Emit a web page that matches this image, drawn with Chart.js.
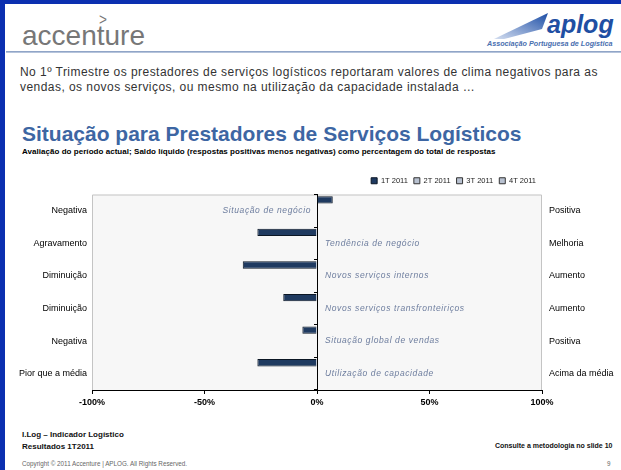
<!DOCTYPE html>
<html>
<head>
<meta charset="utf-8">
<script src="https://cdn.jsdelivr.net/npm/chart.js@4/dist/chart.umd.min.js"></script>
<style>
  html, body { margin:0; padding:0; }
  body { width:621px; height:470px; position:relative; overflow:hidden; background:#fff; font-family:"Liberation Sans", Arial, sans-serif; }
  .abs { position:absolute; white-space:nowrap; }
  #topbar { left:0; top:0; width:621px; height:4px; background:#0b2fb0; }
  #leftbar { left:0; top:0; width:5px; height:470px; background:#0b2fb0; }
  #divider { left:6px; top:51px; width:615px; height:2px; background:linear-gradient(#7d95bd,#c8d3e5); }
  #acc { left:22px; top:22px; font-size:28px; line-height:28px; color:#777; }
  #chev { left:98px; top:11px; font-size:17px; line-height:17px; color:#777; transform:scaleX(0.8); }
  #aplog { left:547px; top:12px; font-size:25px; line-height:25px; font-weight:bold; font-style:italic; color:#1f4fa3; }
  #aplogsub { left:487px; top:40px; font-size:7.2px; line-height:8px; font-weight:bold; font-style:italic; color:#4a6fb0; }
  #intro { left:20px; top:65px; font-size:12px; line-height:15px; color:#333; letter-spacing:0.45px; }
  #title { left:22px; top:123px; font-size:21px; line-height:21px; font-weight:bold; color:#3d66a3; }
  #subtitle { left:22px; top:148px; font-size:8px; line-height:8px; font-weight:bold; color:#000; letter-spacing:0.04px; }
  #f1 { left:22px; top:430px; font-size:8px; line-height:9px; font-weight:bold; color:#111; }
  #f2 { left:22px; top:442px; font-size:8px; line-height:9px; font-weight:bold; color:#111; }
  #f3 { left:495px; top:442px; font-size:7px; line-height:8px; font-weight:bold; color:#111; }
  #f4 { left:22px; top:460px; font-size:6.3px; line-height:7px; color:#666; }
  #f5 { left:607px; top:460px; font-size:6.3px; line-height:7px; color:#666; }
  #chartbox { position:absolute; left:0; top:167px; width:621px; height:248px; }
</style>
</head>
<body>
<div id="topbar" class="abs"></div>
<div id="leftbar" class="abs"></div>
<div id="acc" class="abs">accenture</div>
<div id="chev" class="abs">&gt;</div>
<svg class="abs" style="left:492px;top:11px" width="58" height="30" viewBox="0 0 58 30">
  <defs><linearGradient id="sw" x1="0" y1="1" x2="1" y2="0">
    <stop offset="0" stop-color="#d4def0"/><stop offset="1" stop-color="#1d4ea6"/></linearGradient></defs>
  <polygon points="2,28 56,2 50,18 12,28" fill="url(#sw)"/>
</svg>
<div id="aplog" class="abs">aplog</div>
<div id="aplogsub" class="abs">Associação Portuguesa de Logística</div>
<div id="divider" class="abs"></div>
<div id="intro" class="abs">No 1º Trimestre os prestadores de serviços logísticos reportaram valores de clima negativos para as<br>vendas, os novos serviços, ou mesmo na utilização da capacidade instalada …</div>
<div id="title" class="abs">Situação para Prestadores de Serviços Logísticos</div>
<div id="subtitle" class="abs">Avaliação do período actual; Saldo líquido (respostas positivas menos negativas) como percentagem do total de respostas</div>
<div id="chartbox"><canvas id="c" width="621" height="248"></canvas></div>
<div id="f1" class="abs">I.Log – Indicador Logístico</div>
<div id="f2" class="abs">Resultados 1T2011</div>
<div id="f3" class="abs">Consulte a metodologia no slide 10</div>
<div id="f4" class="abs">Copyright © 2011 Accenture | APLOG. All Rights Reserved.</div>
<div id="f5" class="abs">9</div>

<script>
// ---- data ----
const categories = ['Situação de negócio','Tendência de negócio','Novos serviços internos','Novos serviços transfronteiriços','Situação global de vendas','Utilização de capacidade'];
const negativeLabels = ['Negativa','Agravamento','Diminuição','Diminuição','Negativa','Pior que a média'];
const positiveLabels = ['Positiva','Melhoria','Aumento','Aumento','Positiva','Acima da média'];
const seriesNames = ['1T 2011','2T 2011','3T 2011','4T 2011'];
const q1_2011 = [7, -26.5, -33, -15, -6.5, -26.5];
const q2_2011 = [null, null, null, null, null, null];
const q3_2011 = [null, null, null, null, null, null];
const q4_2011 = [null, null, null, null, null, null];
const xTicks = [-100, -50, 0, 50, 100];

const CANVAS_H = 248;
const AREA_BOTTOM = 223; // in canvas coords

const framePlugin = {
  id: 'frame',
  beforeDraw(chart) {
    const {ctx, chartArea: a} = chart;
    ctx.save();
    ctx.fillStyle = '#f7f7f7';
    ctx.fillRect(a.left, a.top, a.right - a.left, a.bottom - a.top);
    ctx.strokeStyle = '#c4c4c4';
    ctx.lineWidth = 1;
    ctx.beginPath();
    ctx.moveTo(a.left + 0.5, a.bottom);
    ctx.lineTo(a.left + 0.5, a.top + 0.5);
    ctx.lineTo(a.right - 0.5, a.top + 0.5);
    ctx.lineTo(a.right - 0.5, a.bottom);
    ctx.stroke();
    ctx.restore();
  }
};

const innerLabelPlugin = {
  id: 'innerLabels',
  afterDatasetsDraw(chart) {
    const {ctx} = chart;
    const xs = chart.scales.x, ys = chart.scales.y;
    const x0 = xs.getPixelForValue(0);
    ctx.save();
    ctx.font = 'italic 8.5px "Liberation Sans", Arial, sans-serif';
    ctx.fillStyle = '#6d7d9e';
    ctx.textBaseline = 'middle';
    if ('letterSpacing' in ctx) ctx.letterSpacing = '0.6px';
    categories.forEach((c, i) => {
      const y = ys.getPixelForValue(i);
      if (q1_2011[i] > 0) {
        ctx.textAlign = 'right';
        ctx.fillText(c, x0 - 6, y);
      } else {
        ctx.textAlign = 'left';
        ctx.fillText(c, x0 + 8, y);
      }
    });
    ctx.restore();
  }
};

const mkSet = (label, data, bg, border) => ({
  label, data, backgroundColor: bg, borderColor: border, borderWidth: 1,
  categoryPercentage: 0.9, barPercentage: 1.0, yAxisID: 'y'
});

new Chart(document.getElementById('c'), {
  type: 'bar',
  data: {
    labels: categories,
    datasets: [
      mkSet(seriesNames[0], q1_2011, '#1f3a60', '#0b1624'),
      mkSet(seriesNames[1], q2_2011, '#b8c1d0', '#333'),
      mkSet(seriesNames[2], q3_2011, '#b8c1d0', '#333'),
      mkSet(seriesNames[3], q4_2011, '#b8c1d0', '#333')
    ]
  },
  options: {
    indexAxis: 'y',
    responsive: false,
    animation: false,
    layout: { padding: { top: 4, left: 0, right: 0, bottom: 0 } },
    plugins: {
      legend: {
        position: 'top', align: 'end', fullSize: false,
        labels: {
          boxWidth: 6, boxHeight: 6, padding: 6, color: '#222',
          font: { family: '"Liberation Sans", Arial, sans-serif', size: 7.5 }
        }
      },
      tooltip: { enabled: false }
    },
    scales: {
      x: {
        type: 'linear', min: -100, max: 100,
        afterBuildTicks(s) { s.ticks = xTicks.map(v => ({value: v})); },
        ticks: {
          callback: v => v + '%', color: '#000', padding: 3, maxRotation: 0,
          font: { family: '"Liberation Sans", Arial, sans-serif', size: 9, weight: 'bold' }
        },
        grid: { color: 'rgba(0,0,0,0)', tickColor: '#000', tickLength: 4, drawOnChartArea: false },
        border: { display: true, color: '#000', width: 1 },
        afterFit(s) { s.height = CANVAS_H - AREA_BOTTOM; }
      },
      y: {
        type: 'category', position: 'left', offset: true,
        labels: negativeLabels,
        ticks: { color: '#000', padding: 5, font: { family: '"Liberation Sans", Arial, sans-serif', size: 9 } },
        grid: { display: false, drawTicks: false, tickLength: 0 },
        border: { display: false },
        afterFit(s) { s.width = 92; }
      },
      y2: {
        type: 'category', position: 'right', offset: true,
        labels: positiveLabels,
        ticks: { color: '#000', padding: 7, font: { family: '"Liberation Sans", Arial, sans-serif', size: 9 } },
        grid: { display: false, drawTicks: false, tickLength: 0 },
        border: { display: false },
        afterFit(s) { s.width = 79; }
      },
      y3: {
        type: 'category', position: { x: 0 }, offset: true,
        labels: categories,
        ticks: { display: false },
        grid: { offset: true, drawOnChartArea: false, drawTicks: true, tickLength: 3, color: '#000', tickColor: '#000' },
        border: { display: true, color: '#000', width: 1 }
      }
    }
  },
  plugins: [framePlugin, innerLabelPlugin]
});
</script>
</body>
</html>
